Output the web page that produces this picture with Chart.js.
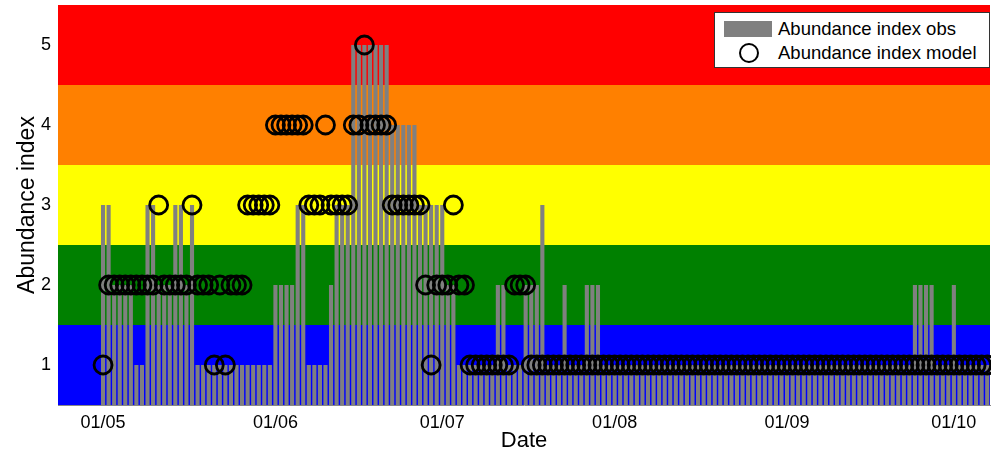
<!DOCTYPE html>
<html>
<head>
<meta charset="utf-8">
<script src="https://cdn.jsdelivr.net/npm/chart.js@4.4.0/dist/chart.umd.min.js"></script>
<style>
  html, body { margin: 0; padding: 0; background: #fff; }
  #wrap { position: relative; width: 993px; height: 457px; }
  #legend {
    position: absolute; left: 714px; top: 12px; width: 276px; height: 56px;
    box-sizing: border-box; background: #fff; border: 1px solid #333;
    font-family: "Liberation Sans", Arial, sans-serif; font-size: 18.5px; color: #000;
  }
  #legend .row { position: absolute; left: 0; height: 24px; line-height: 24px; }
  #legend .txt { position: absolute; left: 63px; white-space: nowrap; }
  #legend .swatch { position: absolute; left: 9px; top: 4px; width: 48px; height: 16px; background: #808080; }
  #legend .ring { position: absolute; left: 24px; top: 2px; width: 16px; height: 16px; border: 2.8px solid #000; border-radius: 50%; }
</style>
</head>
<body>
<div id="wrap">
  <canvas id="abundanceChart" width="993" height="457"></canvas>
  <div id="legend">
    <div class="row" style="top:4px"><span class="swatch"></span><span class="txt">Abundance index obs</span></div>
    <div class="row" style="top:28px"><span class="ring"></span><span class="txt">Abundance index model</span></div>
  </div>
</div>
<script>
// day 0 = 1 May, one value per day
var tickDays = [0, 31, 61, 92, 123, 153];
var tickLabels = ['01/05', '01/06', '01/07', '01/08', '01/09', '01/10'];
var yTicks = [1, 2, 3, 4, 5];

var obs = [
  3,3,2,2,2,2,1,1,3,3,
  2,2,2,3,3,2,3,1,1,1,
  1,1,1,1,1,1,1,1,1,1,
  1,2,2,2,2,3,3,1,1,1,
  1,2,3,3,3,5,5,5,5,5,
  5,5,4,4,4,4,4,3,3,3,
  3,3,2,2,1,1,1,1,1,1,
  1,2,2,1,1,1,2,2,2,3,
  1,1,1,2,1,1,1,2,2,2,
  1,1,1,1,1,1,1,1,1,1,
  1,1,1,1,1,1,1,1,1,1,
  1,1,1,1,1,1,1,1,1,1,
  1,1,1,1,1,1,1,1,1,1,
  1,1,1,1,1,1,1,1,1,1,
  1,1,1,1,1,1,2,2,2,2,
  1,1,1,2,1,1,1,1,1,1
];

var model = [
  1,2,2,2,2,2,2,2,2,2,
  3,2,2,2,2,2,3,2,2,2,
  1,2,1,2,2,2,3,3,3,3,
  3,4,4,4,4,4,4,3,3,3,
  4,3,3,3,3,4,4,5,4,4,
  4,4,3,3,3,3,3,3,2,1,
  2,2,2,3,2,2,1,1,1,1,
  1,1,1,1,2,2,2,1,1,1,
  1,1,1,1,1,1,1,1,1,1,
  1,1,1,1,1,1,1,1,1,1,
  1,1,1,1,1,1,1,1,1,1,
  1,1,1,1,1,1,1,1,1,1,
  1,1,1,1,1,1,1,1,1,1,
  1,1,1,1,1,1,1,1,1,1,
  1,1,1,1,1,1,1,1,1,1,
  1,1,1,1,1,1,1,1,1,1
];

var bandEdges = [0.5, 1.5, 2.5, 3.5, 4.5, 5.5];
var bandColors = ['#0000ff', '#008000', '#ffff00', '#ff8000', '#ff0000'];

var obsPoints = obs.map(function (v, i) { return { x: i, y: v }; });
var modelPoints = model.map(function (v, i) { return { x: i, y: v }; });

var bands = {
  id: 'bands',
  beforeDatasetsDraw: function (chart) {
    var c = chart.ctx, a = chart.chartArea, y = chart.scales.y;
    c.save();
    for (var i = 0; i < bandColors.length; i++) {
      var top = y.getPixelForValue(bandEdges[i + 1]);
      var bot = y.getPixelForValue(bandEdges[i]);
      c.fillStyle = bandColors[i];
      c.fillRect(a.left, top, a.right - a.left, bot - top);
    }
    c.restore();
  }
};

var font = "'Liberation Sans', Arial, sans-serif";
var ctx = document.getElementById('abundanceChart').getContext('2d');
var chart = new Chart(ctx, {
  type: 'bar',
  data: {
    datasets: [{
      type: 'line',
      label: 'Abundance index model',
      data: modelPoints,
      showLine: false,
      pointStyle: 'circle',
      pointRadius: 9,
      pointBorderWidth: 2.8,
      pointBorderColor: '#000',
      pointBackgroundColor: 'rgba(0,0,0,0)',
      clip: { left: 12, top: 12, right: 1, bottom: 12 },
      order: 0
    }, {
      type: 'bar',
      label: 'Abundance index obs',
      data: obsPoints,
      backgroundColor: '#808080',
      barPercentage: 0.74,
      categoryPercentage: 1,
      order: 1
    }]
  },
  options: {
    responsive: false,
    animation: false,
    layout: { padding: { top: 5, right: 3, left: 0, bottom: 0 } },
    plugins: { legend: { display: false }, tooltip: { enabled: false } },
    scales: {
      x: {
        type: 'linear',
        offset: false,
        min: -8.1,
        max: 159.5,
        afterBuildTicks: function (s) { s.ticks = tickDays.map(function (d) { return { value: d }; }); },
        afterFit: function (s) { s.height = 52; s.paddingLeft = 0; s.paddingRight = 0; },
        ticks: {
          autoSkip: false, maxRotation: 0, padding: 7, color: '#000',
          font: { family: font, size: 18 },
          callback: function (v, i) { return tickLabels[i]; }
        },
        grid: { display: false, drawTicks: false },
        border: { display: true, color: '#888' },
        title: { display: true, text: 'Date', color: '#000', font: { family: font, size: 22 }, padding: { top: 0, bottom: 3 } }
      },
      y: {
        min: 0.5,
        max: 5.5,
        afterBuildTicks: function (s) { s.ticks = yTicks.map(function (v) { return { value: v }; }); },
        afterFit: function (s) { s.width = 58; s.paddingTop = 0; s.paddingBottom = 0; },
        ticks: { padding: 7, color: '#000', font: { family: font, size: 18 } },
        grid: { display: false, drawTicks: false },
        border: { display: true, color: '#888' },
        title: { display: true, text: 'Abundance index', color: '#000', font: { family: font, size: 23 }, padding: { top: 14, bottom: 0 } }
      }
    }
  },
  plugins: [bands]
});

// the circle markers should not push the plot area inwards
chart.getDatasetMeta(0).controller.getMaxOverflow = function () { return 0; };
chart.update();
</script>
</body>
</html>
